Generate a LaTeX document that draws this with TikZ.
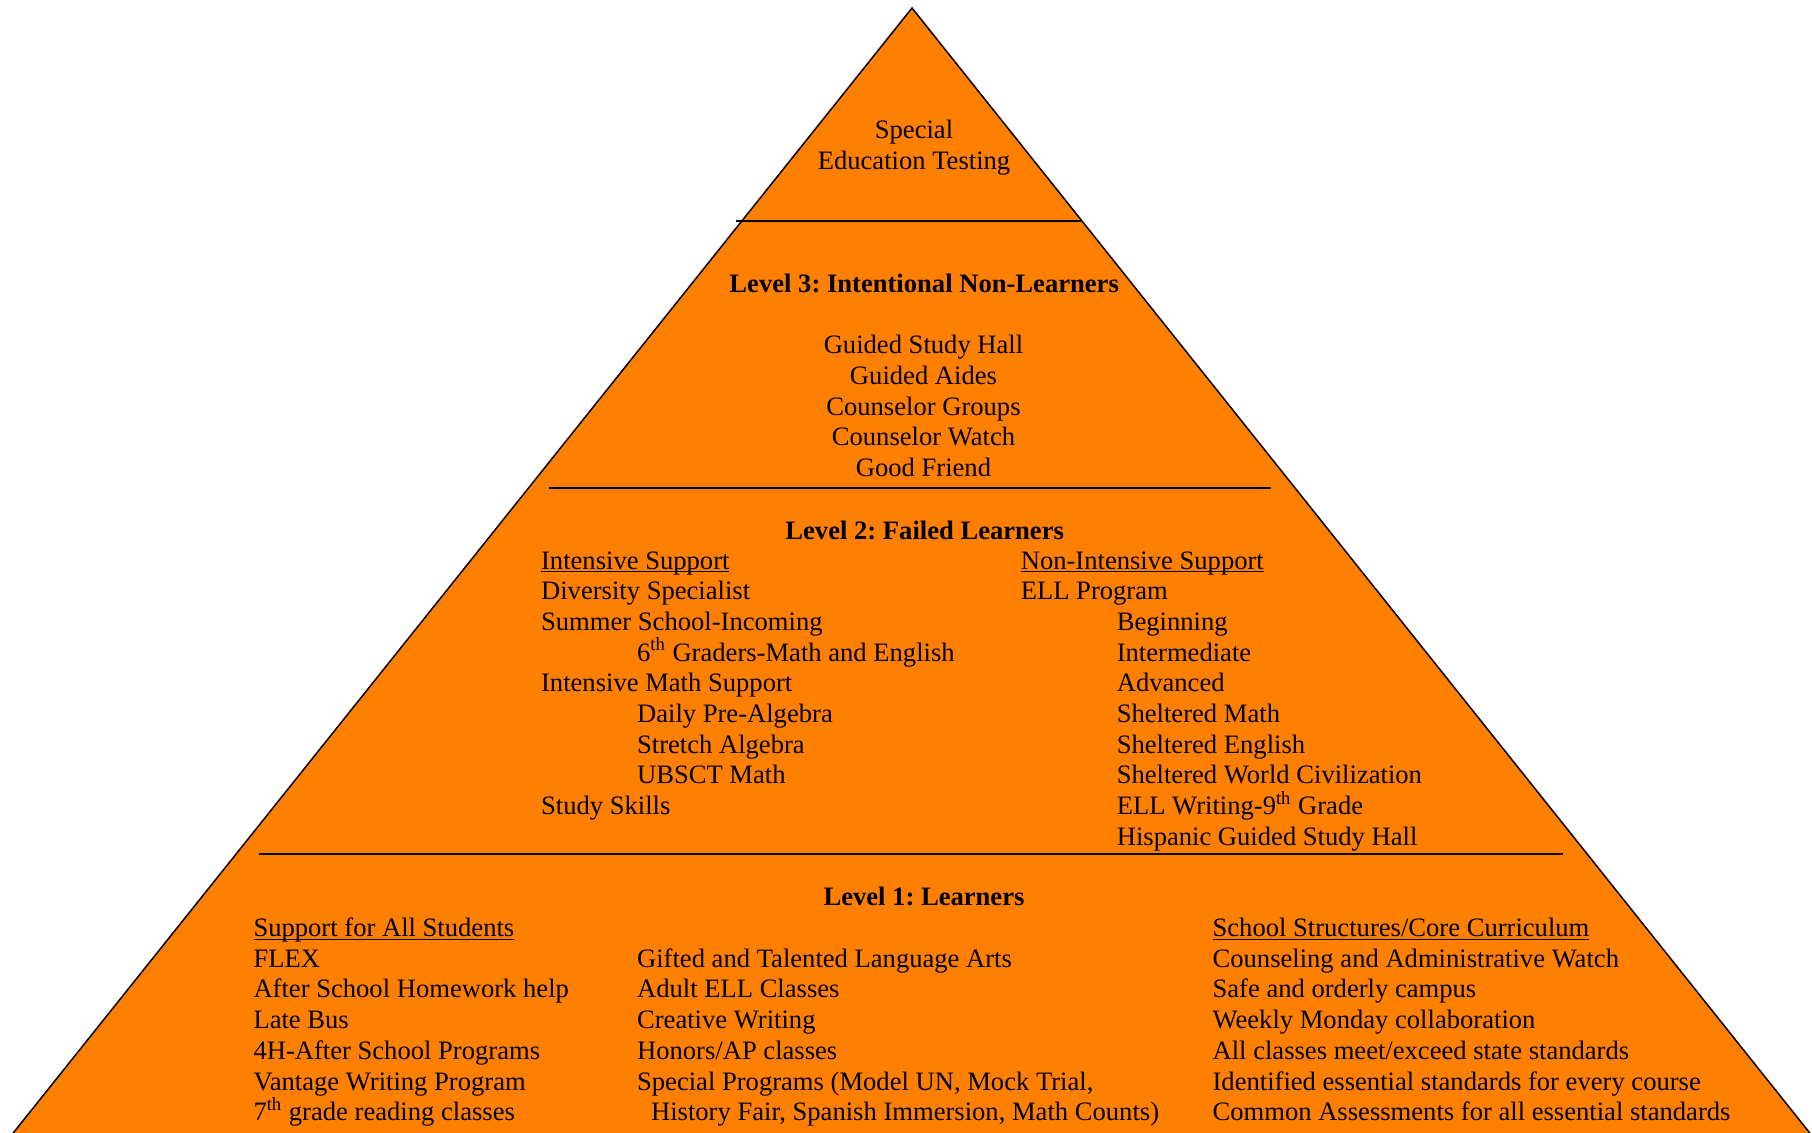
\documentclass[tikz,border=0pt]{standalone}
\usepackage{fontspec}
\setmainfont{Liberation Serif}
\definecolor{pyramid}{RGB}{255,128,0}
\newcommand{\head}[1]{\underline{\smash{#1}}}
\frenchspacing

\begin{document}
\begin{tikzpicture}[x=0.5pt, y=-0.5pt]
\tikzset{ level/.style={align=center, inner sep=0pt, anchor=base,
                        font=\fontsize{13.3}{15.35}\selectfont},
          column/.style={align=left, inner sep=0pt, anchor=base west,
                         font=\fontsize{13.3}{15.35}\selectfont},
          divider/.style={line width=1pt} };
\def\ind{\hspace*{48pt}}

\useasboundingbox (0,0) rectangle (1812,1132);
\clip (0,0) rectangle (1812,1132);

% the pyramid
\coordinate (apex) at (912,8);
\coordinate (baseL) at (7.6,1140);
\coordinate (baseR) at (1815.4,1140);
\draw[fill=pyramid, line width=0.75pt] (apex) -- (baseR) -- (baseL) -- cycle;

\coordinate (D1a) at (736,220.7);   \coordinate (D1b) at (1080.5,220.7);
\coordinate (D2a) at (549.3,487.7); \coordinate (D2b) at (1270.7,487.7);
\coordinate (D3a) at (259.3,853.5); \coordinate (D3b) at (1562.7,853.5);
\draw[divider] (D1a) -- (D1b);
\draw[divider] (D2a) -- (D2b);
\draw[divider] (D3a) -- (D3b);

% top (multi-line nodes sit on the baseline of their last line)
\node[level] (top) at (914,169.3) { Special\\Education Testing };

% level 3
\node[level] (L3) at (927.5,292.8) { \textbf{Level 3: Intentional Non-Learners} };
\node[level] (L3list) at (923.5,476.5) { Guided Study Hall\\Guided Aides\\Counselor Groups\\Counselor Watch\\Good Friend };

% level 2
\node[level] (L2) at (928,539) { \textbf{Level 2: Failed Learners} };
\node[column] (L2left) at (540.7,814.6) { \head{Intensive Support}\\
  Diversity Specialist\\
  Summer School-Incoming\\
  \ind 6\textsuperscript{th} Graders-Math and English\\
  Intensive Math Support\\
  \ind Daily Pre-Algebra\\
  \ind Stretch Algebra\\
  \ind UBSCT Math\\
  Study Skills };
\node[column] (L2right) at (1020.4,845.3) { \head{Non-Intensive Support}\\
  ELL Program\\
  \ind Beginning\\
  \ind Intermediate\\
  \ind Advanced\\
  \ind Sheltered Math\\
  \ind Sheltered English\\
  \ind Sheltered World Civilization\\
  \ind ELL Writing-9\textsuperscript{th} Grade\\
  \ind Hispanic Guided Study Hall };

% level 1
\node[level] (L1) at (927.3,905.3) { \textbf{Level 1: Learners} };
\node[column] (L1left) at (253.1,1120.7) { \head{Support for All Students}\\
  FLEX\\
  After School Homework help\\
  Late Bus\\
  4H-After School Programs\\
  Vantage Writing Program\\
  7\textsuperscript{th} grade reading classes };
\node[column] (L1mid) at (636.7,1120.7) { Gifted and Talented Language Arts\\
  Adult ELL Classes\\
  Creative Writing\\
  Honors/AP classes\\
  Special Programs (Model UN, Mock Trial,\\
  \hspace*{7pt}History Fair, Spanish Immersion, Math Counts) };
\node[column] (L1right) at (1212.2,1120.7) { \head{School Structures/Core Curriculum}\\
  Counseling and Administrative Watch\\
  Safe and orderly campus\\
  Weekly Monday collaboration\\
  All classes meet/exceed state standards\\
  Identified essential standards for every course\\
  Common Assessments for all essential standards };

\end{tikzpicture}
\end{document}
